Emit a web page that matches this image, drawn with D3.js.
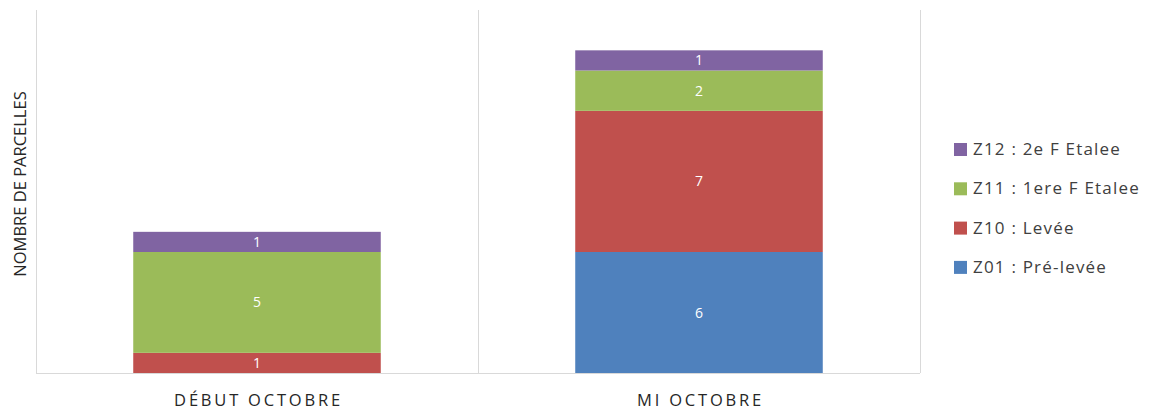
<!DOCTYPE html>
<html>
<head>
<meta charset="utf-8">
<script src="https://cdn.jsdelivr.net/npm/d3@7"></script>
<style>
  body { margin: 0; background: #fff; }
  svg { display: block; font-family: "Open Sans", "Noto Sans", sans-serif; }
</style>
</head>
<body>
<div id="chart"></div>
<script>
// categories and stacked series (bottom -> top)
const categories = ["DÉBUT OCTOBRE", "MI OCTOBRE"];
const seriesNames = ["Z01 : Pré-levée", "Z10 : Levée", "Z11 : 1ere F Etalee", "Z12 : 2e F Etalee"];
const seriesColors = ["#4F81BD", "#C0504D", "#9BBB59", "#8064A2"];
const z01 = [0, 6];
const z10 = [1, 7];
const z11 = [5, 2];
const z12 = [1, 1];
const yMax = 18;

const width = 1153, height = 410;
const plot = { left: 36, right: 920, top: 10, bottom: 373 };

const rows = categories.map((c, i) => ({
    cat: c,
    s0: z01[i], s1: z10[i], s2: z11[i], s3: z12[i]
}));
const keys = ["s0", "s1", "s2", "s3"];

const svg = d3.select("#chart").append("svg")
    .attr("width", width)
    .attr("height", height);

const x = d3.scaleBand().domain(categories).range([plot.left, plot.right]).padding(0);
const y = d3.scaleLinear().domain([0, yMax]).range([plot.bottom, plot.top]);
const barW = x.bandwidth() * 0.56;

// grid / frame lines
const gridColor = "#d9d9d9";
const dividers = [plot.left, ...categories.map(c => x(c) + x.bandwidth())];
svg.append("g").selectAll("line")
    .data(dividers)
    .join("line")
    .attr("x1", d => d + 0.5).attr("x2", d => d + 0.5)
    .attr("y1", plot.top).attr("y2", plot.bottom)
    .attr("stroke", gridColor);
svg.append("line")
    .attr("x1", plot.left).attr("x2", plot.right)
    .attr("y1", plot.bottom + 0.5).attr("y2", plot.bottom + 0.5)
    .attr("stroke", gridColor);

const stacked = d3.stack().keys(keys)(rows);

const layer = svg.append("g").selectAll("g")
    .data(stacked)
    .join("g")
    .attr("fill", (d, i) => seriesColors[i]);

layer.selectAll("rect")
    .data(d => d.filter(p => p[1] - p[0] > 0))
    .join("rect")
    .attr("x", d => x(d.data.cat) + (x.bandwidth() - barW) / 2)
    .attr("width", barW)
    .attr("y", d => y(d[1]))
    .attr("height", d => y(d[0]) - y(d[1]));

layer.selectAll("text")
    .data(d => d.filter(p => p[1] - p[0] > 0))
    .join("text")
    .attr("x", d => x(d.data.cat) + x.bandwidth() / 2)
    .attr("y", d => (y(d[0]) + y(d[1])) / 2)
    .attr("dy", "0.36em")
    .attr("text-anchor", "middle")
    .attr("fill", "#fff")
    .attr("font-size", 14)
    .text(d => d[1] - d[0]);

// x axis labels
svg.append("g").selectAll("text")
    .data(categories)
    .join("text")
    .attr("x", d => x(d) + x.bandwidth() / 2 + 1.5)
    .attr("y", 406)
    .attr("text-anchor", "middle")
    .attr("font-size", 16.5)
    .attr("letter-spacing", "2.8px")
    .attr("fill", "#262626")
    .text(d => d);

// y axis title
svg.append("text")
    .attr("transform", `translate(26,184) rotate(-90)`)
    .attr("text-anchor", "middle")
    .attr("font-size", 16.5)
    .attr("fill", "#262626")
    .text("NOMBRE DE PARCELLES");

// legend, top entry is last series
const legendItems = seriesNames.map((n, i) => ({ name: n, color: seriesColors[i] })).reverse();
const legend = svg.append("g").selectAll("g")
    .data(legendItems)
    .join("g")
    .attr("transform", (d, i) => `translate(954,${149 + i * 39.3})`);
legend.append("rect")
    .attr("x", 0).attr("y", -6)
    .attr("width", 13).attr("height", 13)
    .attr("fill", d => d.color);
legend.append("text")
    .attr("x", 19)
    .attr("dy", "0.36em")
    .attr("font-size", 17)
    .attr("letter-spacing", "1.2px")
    .attr("fill", "#404040")
    .text(d => d.name);
</script>
</body>
</html>
